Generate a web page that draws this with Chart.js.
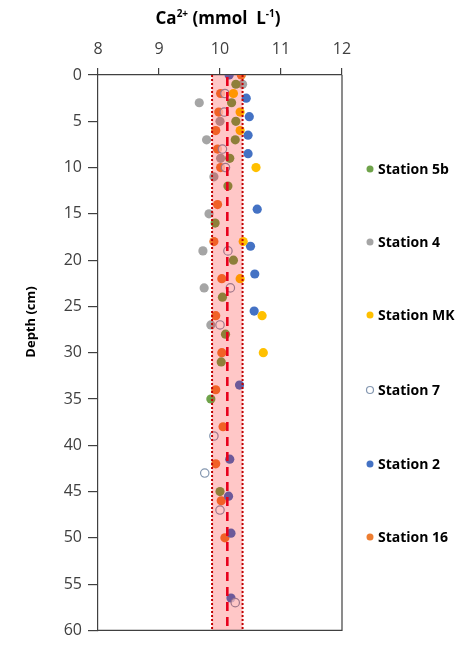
<!DOCTYPE html>
<html>
<head>
<meta charset="utf-8">
<script src="https://cdn.jsdelivr.net/npm/chart.js@4/dist/chart.umd.min.js"></script>
<style>
  html, body { margin: 0; padding: 0; background: #fff; }
  canvas { display: block; }
</style>
</head>
<body>
<canvas id="caChart" width="458" height="646"></canvas>
<script>
// Series values (Ca2+ in mmol/L vs depth in cm)
const stationNames = ['Station 5b', 'Station 4', 'Station MK', 'Station 7', 'Station 2', 'Station 16'];
const stationColors = ['#6FA34A', '#A5A5A5', '#FFC000', '#8497B0', '#4472C4', '#ED7D31'];

const st5bDepth = [1, 3, 5, 7, 9, 12, 16, 20, 24, 28, 31, 35, 45];
const st5bCa    = [10.26, 10.19, 10.26, 10.25, 10.16, 10.13, 9.92, 10.22, 10.04, 10.09, 10.02, 9.85, 10.0];

const st4Depth = [1, 3, 5, 7, 9, 11, 15, 19, 23, 27];
const st4Ca    = [10.37, 9.66, 10.0, 9.78, 10.01, 9.9, 9.82, 9.72, 9.74, 9.85];

const stMKDepth = [2, 4, 6, 10, 18, 22, 26, 30];
const stMKCa    = [10.22, 10.33, 10.33, 10.59, 10.38, 10.33, 10.69, 10.71];

const st7Depth = [2, 4, 8, 10, 19, 23, 27, 39, 43, 47, 57];
const st7Ca    = [10.08, 10.07, 10.04, 10.09, 10.13, 10.17, 10.0, 9.9, 9.75, 10.0, 10.25];

const st2Depth = [0, 2.5, 4.5, 6.5, 8.5, 14.5, 18.5, 21.5, 25.5, 33.5, 41.5, 45.5, 49.5, 56.5];
const st2Ca    = [10.15, 10.43, 10.48, 10.46, 10.46, 10.61, 10.5, 10.57, 10.56, 10.32, 10.16, 10.14, 10.18, 10.18];

const st16Depth = [0, 2, 4, 6, 8, 10, 14, 18, 22, 26, 30, 34, 38, 42, 46, 50];
const st16Ca    = [10.35, 10.01, 9.98, 9.93, 9.96, 10.01, 9.96, 9.9, 10.03, 9.93, 10.03, 9.93, 10.05, 9.93, 10.02, 10.08];

// mean and range band
const meanCa = 10.12;
const bandCa = [9.87, 10.37];

const xTicks = [8, 9, 10, 11, 12];
const depthTicks = [0, 5, 10, 15, 20, 25, 30, 35, 40, 45, 50, 55, 60];

function toPoints(depths, values) {
    return depths.map((d, i) => ({ x: values[i], y: d }));
}

const allDepths = [st5bDepth, st4Depth, stMKDepth, st7Depth, st2Depth, st16Depth];
const allValues = [st5bCa, st4Ca, stMKCa, st7Ca, st2Ca, st16Ca];

const datasets = stationNames.map((name, i) => {
    const hollow = name === 'Station 7';
    return {
        label: name,
        data: toPoints(allDepths[i], allValues[i]),
        pointRadius: hollow ? 4.2 : 4.6,
        pointBackgroundColor: hollow ? 'rgba(255,255,255,0.7)' : stationColors[i],
        pointBorderColor: stationColors[i],
        pointBorderWidth: hollow ? 1.2 : 0,
        showLine: false
    };
});

// pink band with dotted edges + dashed mean line, drawn over the points
const bandPlugin = {
    id: 'band',
    afterDatasetsDraw(chart) {
        const { ctx, chartArea, scales } = chart;
        const xl = scales.x.getPixelForValue(bandCa[0]);
        const xr = scales.x.getPixelForValue(bandCa[1]);
        const xm = scales.x.getPixelForValue(meanCa);
        ctx.save();
        ctx.fillStyle = 'rgba(255, 0, 0, 0.22)';
        ctx.fillRect(xl, chartArea.top, xr - xl, chartArea.bottom - chartArea.top);

        ctx.strokeStyle = '#C00000';
        ctx.lineWidth = 2;
        ctx.setLineDash([2, 2]);
        [xl, xr].forEach(x => {
            ctx.beginPath();
            ctx.moveTo(x, chartArea.top);
            ctx.lineTo(x, chartArea.bottom);
            ctx.stroke();
        });

        ctx.strokeStyle = '#E8001C';
        ctx.lineWidth = 2.6;
        ctx.setLineDash([9, 6]);
        ctx.beginPath();
        ctx.moveTo(xm, chartArea.top + 2);
        ctx.lineTo(xm, chartArea.bottom);
        ctx.stroke();
        ctx.restore();
    }
};

// frame, titles and legend
const decorPlugin = {
    id: 'decor',
    afterDraw(chart) {
        const { ctx, chartArea } = chart;
        ctx.save();
        ctx.strokeStyle = '#404040';
        ctx.lineWidth = 1.2;
        ctx.beginPath();
        ctx.moveTo(chartArea.right, chartArea.top);
        ctx.lineTo(chartArea.right, chartArea.bottom);
        ctx.lineTo(chartArea.left, chartArea.bottom);
        ctx.stroke();

        // top title with superscripts
        ctx.fillStyle = '#000';
        ctx.textBaseline = 'alphabetic';
        const big = 'bold 17px "Open Sans"';
        const small = 'bold 10px "Open Sans"';
        const parts = [
            ['Ca', big, 0], ['2+', small, -7], [' (mmol  L', big, 0], ['-1', small, -7], [')', big, 0]
        ];
        let total = 0;
        parts.forEach(p => { ctx.font = p[1]; total += ctx.measureText(p[0]).width; });
        let x = 218 - total / 2;
        parts.forEach(p => {
            ctx.font = p[1];
            ctx.fillText(p[0], x, 24 + p[2]);
            x += ctx.measureText(p[0]).width;
        });

        // y-axis title
        ctx.save();
        ctx.translate(31, 322);
        ctx.rotate(-Math.PI / 2);
        ctx.font = 'bold 13px "Open Sans"';
        ctx.textAlign = 'center';
        ctx.textBaseline = 'middle';
        ctx.fillText('Depth (cm)', 0, 0);
        ctx.restore();

        // legend column
        const legendY = [169, 242, 315, 390, 464, 537];
        ctx.font = 'bold 14px "Open Sans"';
        ctx.textBaseline = 'middle';
        stationNames.forEach((name, i) => {
            ctx.beginPath();
            ctx.arc(370, legendY[i], 3.5, 0, Math.PI * 2);
            if (name === 'Station 7') {
                ctx.fillStyle = '#fff';
                ctx.fill();
                ctx.strokeStyle = stationColors[i];
                ctx.lineWidth = 1.2;
                ctx.stroke();
            } else {
                ctx.fillStyle = stationColors[i];
                ctx.fill();
            }
            ctx.fillStyle = '#000';
            ctx.fillText(name, 378, legendY[i] + 1);
        });
        ctx.restore();
    }
};

new Chart(document.getElementById('caChart'), {
    type: 'scatter',
    data: { datasets },
    options: {
        responsive: false,
        animation: false,
        layout: { padding: { left: 0, right: 116, top: 0, bottom: 9 } },
        plugins: { legend: { display: false }, tooltip: { enabled: false } },
        scales: {
            x: {
                type: 'linear',
                position: 'top',
                min: 8,
                max: 12,
                afterBuildTicks: axis => { axis.ticks = xTicks.map(v => ({ value: v })); },
                afterFit: axis => { axis.height = 75; },
                grid: { drawOnChartArea: false, drawTicks: true, tickLength: 7, color: '#404040', lineWidth: 1.2 },
                border: { display: true, color: '#404040', width: 1.2 },
                ticks: { color: '#404040', font: { family: 'Open Sans', size: 16 }, padding: 9 }
            },
            y: {
                type: 'linear',
                reverse: true,
                min: 0,
                max: 60,
                afterBuildTicks: axis => { axis.ticks = depthTicks.map(v => ({ value: v })); },
                afterFit: axis => { axis.width = 98; },
                grid: { drawOnChartArea: false, drawTicks: true, tickLength: 10, color: '#404040', lineWidth: 1.2 },
                border: { display: true, color: '#404040', width: 1.2 },
                ticks: { color: '#404040', font: { family: 'Open Sans', size: 16 }, padding: 6 }
            }
        }
    },
    plugins: [bandPlugin, decorPlugin]
});
</script>
</body>
</html>
